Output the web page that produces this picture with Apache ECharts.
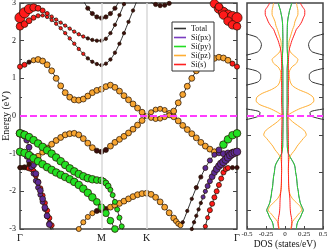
<!DOCTYPE html>
<html><head><meta charset="utf-8">
<script src="https://cdn.jsdelivr.net/npm/echarts@6/dist/echarts.min.js"></script>
<style>html,body{margin:0;padding:0;background:#fff}#c{width:327px;height:250px}</style>
</head><body><div id="c"></div>
<script>
// ---------- axis ticks ----------
const kTicks = [0, 18, 28, 48];
const kLabels = ['Γ', 'M', 'K', 'Γ'];
const fermiE = 0;
const dosTicks = [-0.5, -0.25, 0, 0.25, 0.5];

// ---------- band structure (k index, energy eV) ----------
const kFull = [0,1,2,3,4,5,6,7,8,9,10,11,12,13,14,15,16,17,18,19,20,21,22,23,24,25,26,27,28,29,30,31,32,33,34,35,36,37,38,39,40,41,42,43,44,45,46,47,48];

const eB1 = [2.61,2.74,2.84,2.88,2.86,2.8,2.72,2.64,2.56,2.48,
  2.4,2.32,2.24,2.17,2.11,2.06,2.02,2.0,2.0,2.05,
  2.2,2.42,2.68,2.97,3.28,null,null,null,null,null,
  null,null,null,null,null,null,null,null,null,null,
  null,3.35,3.15,2.98,2.85,2.75,2.68,2.64,2.61];
const oB1 = 'ssssssssss sssssttttt ttttt..... .......... .ssssssss';
const wB1 = '9986432111 1111111111 1111100000 0000000000 046789999';

const eB2 = [2.38,2.44,2.53,2.61,2.66,2.67,2.63,2.55,2.45,2.33,
  2.2,2.06,1.92,1.78,1.65,1.53,1.44,1.38,1.35,1.39,
  1.5,1.68,1.92,2.2,2.5,2.8,3.1,3.4,null,null,
  null,null,null,null,null,null,null,null,null,null,
  null,null,null,3.2,2.9,2.68,2.52,2.42,2.38];
const oB2 = 'ssssssssss sssssttttt tttttttt.. .......... ...ssssss';
const wB2 = '6543211111 1111111111 1111111100 0000000000 000567776';

const kB3 = [13,14,15,16,17,18,19,20,21,22,23];
const eB3 = [3.35,3.07,2.86,2.72,2.63,2.6,2.63,2.72,2.86,3.07,3.35];
const oB3 = 'ttttttttttt';
const wB3 = '22222222222';

const kB4 = [27,28,29,30,31,32,33,34,35];
const eB4 = [3.3,3.12,3.02,2.96,2.93,2.94,2.99,3.08,3.25];
const oB4 = 'ttttttttt';
const wB4 = '222222222';

const eB5 = [1.31,1.36,1.43,1.48,1.5,1.46,1.36,1.2,1.0,0.8,
  0.62,0.5,0.43,0.42,0.45,0.53,0.62,0.68,0.71,0.78,
  0.82,0.76,0.66,0.54,0.43,0.32,0.21,0.1,0.0,-0.05,
  -0.08,-0.07,-0.03,0.02,0.13,0.35,0.57,0.79,1.0,1.2,
  1.33,1.42,1.48,1.53,1.56,1.54,1.48,1.39,1.31];
const oB5 = 'sstzzzzzzz zzzzzzzzzz zzzzzzzzzz zzzzzzzzzz zzzzzzzss';
const wB5 = '3323444444 4444444444 4444444433 3333444444 444444433';

const eB6 = [-1.37,-1.35,-1.28,-1.18,-1.07,-0.96,-0.85,-0.75,-0.65,-0.57,
  -0.5,-0.47,-0.46,-0.5,-0.6,-0.72,-0.84,-0.92,-0.95,-0.9,
  -0.8,-0.7,-0.62,-0.54,-0.45,-0.35,-0.24,-0.12,0.0,0.1,
  0.17,0.19,0.16,0.08,-0.02,-0.13,-0.25,-0.36,-0.47,-0.58,
  -0.7,-0.8,-0.88,-0.95,-0.99,-1.0,-0.98,-0.96,-0.95];
const oB6 = 'tttzzzzzzz zzzzzzzttt zzzzzzzzzz zzzzzzzzzz zzzzxxxxx';
const wB6 = '2223444444 4444444333 4444444433 3333444444 444434444';

const kG1 = [0,1,2,3,4,5,6,7,8,9,10,11,12,13,14,15,16,17,18,18.5,19,19.5,20,20.5,21,21.5,22,22.5,23,23.5];
const eG1 = [-0.46,-0.5,-0.56,-0.64,-0.73,-0.82,-0.91,-1.0,-1.1,-1.2,
  -1.3,-1.39,-1.47,-1.54,-1.6,-1.65,-1.68,-1.7,-1.71,
  -1.73,-1.78,-1.86,-1.96,-2.1,-2.28,-2.48,-2.7,-2.93,-3.16,-3.4];
const oG1 = 'yyyyyyyyyy yyyyyyyyyy yyyyyyyyyy';
const wG1 = '6666666666 6666666554 4433333333';

const kG2 = [0,1,2,3,4,5,6,7,8,9,10,11,12,13,14,15,16,17,18,19,20,21,22];
const eG2 = [-0.95,-0.98,-1.04,-1.12,-1.2,-1.28,-1.36,-1.43,-1.5,-1.56,
  -1.62,-1.68,-1.75,-1.83,-1.93,-2.04,-2.16,-2.28,-2.42,-2.58,-2.78,-3.0,-3.25];
const oG2 = 'yyyyyyyyyy yyyyyyyyyy yyy';
const wG2 = '6666666666 6666666555 555';

const kB9 = [12,13,14,15,16,17,18,19,20,21,22,23,24,25,26,27,28,29,30,31,32,33,34,34.5,35,35.5,36,37,38,39,40,41,42,43,44,45,46,47,48];
const eB9 = [-3.3,-3.0,-2.82,-2.68,-2.58,-2.52,-2.5,-2.47,-2.42,-2.37,
  -2.32,-2.26,-2.2,-2.14,-2.09,-2.06,-2.05,-2.08,-2.16,-2.28,
  -2.42,-2.57,-2.71,-2.79,-2.86,-2.9,-2.82,-2.52,-2.2,-1.9,
  -1.62,-1.38,-1.18,-1.03,-0.9,-0.76,-0.62,-0.51,-0.46];
const oB9 = 'zzzzztttzz zzzzzzzzzz zzzzzztttt txxxxyyyy';
const wB9 = '3333333344 4444444444 4443331112 2333 46666';

const kB10 = [37.5,38,38.5,39,39.5,40,40.5,41,41.5,42,42.5,43,43.5,44,44.5,45,45.5,46,46.5,47,47.5,48];
const eB10 = [-3.2,-3.0,-2.82,-2.65,-2.48,-2.31,-2.15,-2.0,-1.86,-1.73,
  -1.61,-1.5,-1.41,-1.33,-1.27,-1.22,-1.16,-1.1,-1.04,-1.0,-0.97,-0.95];
const oB10 = 'ttttttxxxx xxxxxxxxxx xx';
const wB10 = '1111112233 4455666666 66';

const kB11 = [40.5,41,41.5,42,42.5,43,43.5,44,44.5,45,45.5,46,47,48];
const eB11 = [-3.2,-2.93,-2.7,-2.5,-2.33,-2.16,-2.0,-1.83,-1.66,-1.5,-1.41,-1.38,-1.37,-1.37];
const oB11 = 'ssssssssssss tt';
const wB11 = '222333333333 22';

const kHalf = [0,0.5,1,1.5,2,2.5,3,3.5,4,4.5,5,5.5,6,6.5,7,7.5];
const eP1 = [-0.46,-0.47,-0.52,-0.64,-0.83,-1.06,-1.3,-1.53,-1.76,-1.98,-2.2,-2.43,-2.65,-2.88,-3.1,-3.33];
const oP1 = 'xxxxxxxxxxxxxxxx';
const wP1 = '6554444444444444';
const eP2 = [-0.95,-0.96,-1.0,-1.08,-1.2,-1.36,-1.53,-1.72,-1.9,-2.09,-2.28,-2.47,-2.66,-2.85,-3.04,-3.23];
const oP2 = 'xxxxxxxxxxxxxxxx';
const wP2 = '3333333333333333';
const kS1 = [0,0.5,1,1.5,2,2.5,3,3.5,4,4.5,5,5.5,6,6.5,7,7.5,8];
const eS1 = [-1.37,-1.37,-1.37,-1.38,-1.39,-1.41,-1.46,-1.58,-1.74,-1.92,-2.11,-2.31,-2.51,-2.71,-2.9,-3.08,-3.27];
const oS1 = 'ttttsssssssssssss';
const wS1 = '22223333333333333';

// ---------- DOS (energy grid, states/eV) ----------
const dosE = [-3.0,-2.9,-2.8,-2.7,-2.6,-2.5,-2.4,-2.3,-2.2,-2.1,
  -2.0,-1.9,-1.8,-1.7,-1.6,-1.5,-1.4,-1.3,-1.2,-1.1,
  -1.0,-0.9,-0.8,-0.7,-0.6,-0.5,-0.4,-0.3,-0.2,-0.1,
  0.0,0.1,0.2,0.3,0.4,0.5,0.6,0.7,0.8,0.9,
  1.0,1.1,1.2,1.3,1.4,1.5,1.6,1.7,1.8,1.9,
  2.0,2.1,2.2,2.3,2.4,2.5,2.6,2.7,2.8,2.9,3.0];
const dosTotal = [0.9,0.9,0.9,0.9,0.9,0.9,0.9,0.9,0.9,0.9,
  0.9,0.9,0.9,0.9,0.9,0.9,0.9,0.9,0.9,0.9,
  0.9,0.9,0.9,0.9,0.9,0.9,0.9,0.9,0.8,0.52,
  0.34,0.33,0.55,0.85,0.9,0.9,0.9,0.9,0.56,0.36,
  0.32,0.32,0.38,0.6,0.9,0.9,0.55,0.36,0.32,0.31,
  0.33,0.38,0.56,0.9,0.9,0.9,0.9,0.9,0.9,0.9,0.9];
const dosPy = [0.15,0.155,0.17,0.2,0.22,0.24,0.22,0.2,0.19,0.18,
  0.175,0.165,0.16,0.155,0.15,0.14,0.135,0.125,0.1,0.07,
  0.045,0.035,0.03,0.03,0.028,0.028,0.027,0.027,0.026,0.026,
  0.025,0.026,0.027,0.028,0.028,0.028,0.028,0.028,0.028,0.028,
  0.028,0.028,0.028,0.03,0.033,0.036,0.034,0.031,0.029,0.028,
  0.028,0.028,0.029,0.03,0.031,0.034,0.04,0.05,0.06,0.075,0.09];
const dosPx = dosPy;
const dosPz = [0.075,0.085,0.1,0.14,0.18,0.22,0.2,0.15,0.1,0.07,
  0.055,0.05,0.047,0.046,0.047,0.045,0.044,0.045,0.05,0.06,
  0.09,0.13,0.16,0.2,0.24,0.28,0.26,0.2,0.13,0.07,
  0.03,0.1,0.2,0.33,0.38,0.37,0.3,0.18,0.1,0.07,
  0.06,0.055,0.06,0.09,0.15,0.17,0.12,0.07,0.055,0.05,
  0.055,0.07,0.085,0.1,0.12,0.13,0.15,0.17,0.17,0.16,0.15];
const dosS = [0.08,0.09,0.09,0.085,0.075,0.07,0.067,0.066,0.064,0.06,
  0.055,0.05,0.048,0.047,0.046,0.045,0.045,0.046,0.045,0.044,
  0.044,0.045,0.046,0.045,0.044,0.044,0.043,0.042,0.041,0.04,
  0.038,0.04,0.042,0.044,0.045,0.045,0.044,0.044,0.045,0.045,
  0.045,0.045,0.045,0.044,0.045,0.046,0.048,0.052,0.06,0.075,
  0.09,0.11,0.13,0.15,0.19,0.22,0.24,0.26,0.26,0.23,0.2];

// ---------- styling ----------
const FONT = "'Liberation Serif','DejaVu Serif',serif";
const ORB_COLOR = {s:'#ff1a1a', x:'#5d2b96', y:'#22e022', z:'#f7a531', t:'#3b0e0e'};
const AX = '#444';
function symSize(w){ return w === 0 ? 2.4 : 2.5 + 0.85 * w; }
function clean(s){ return s.replace(/\s/g, ''); }
function bandData(k, e, orb, w){
  orb = clean(orb); w = clean(w);
  if (k.length !== e.length || orb.length !== e.length || w.length !== e.length)
    console.error('length mismatch', k.length, e.length, orb.length, w.length);
  return e.map((v, i) => v == null ? {value: [k[i], '-']} :
    {value: [k[i], v], symbolSize: symSize(+w[i]), itemStyle: {color: ORB_COLOR[orb[i]] || '#000'}});
}
function bandSeries(data, extra){
  return Object.assign({type:'line', xAxisIndex:0, yAxisIndex:0, data, symbol:'circle',
    showSymbol:true, showAllSymbol:true, smooth:0.3, connectNulls:false, clip:true,
    lineStyle:{color:'#1b1b1b', width:0.9},
    itemStyle:{borderColor:'#2a1505', borderWidth:0.75},
    emphasis:{disabled:true}, silent:true, animation:false, z:3}, extra || {});
}
function dosSeries(name, vals, color, sign, extra){
  return Object.assign({name, type:'line', xAxisIndex:1, yAxisIndex:2, color,
    data: dosE.map((e, j) => [sign * vals[j], e]), symbol:'none', showSymbol:false,
    smooth:0.25, clip:true, lineStyle:{color, width:1.0}, emphasis:{disabled:true},
    silent:true, animation:false, z:3}, extra || {});
}
const fermiLine = {silent:true, symbol:['none','none'], animation:false, label:{show:false},
  lineStyle:{color:'#ff3cff', width:1.8, type:[7,3]}, data:[{yAxis: fermiE}]};

const series = [
  bandSeries(bandData(kB3, eB3, oB3, wB3), {markLine:{silent:true, symbol:['none','none'], animation:false,
    label:{show:false}, lineStyle:{color:'#d8d8d8', width:1.5, type:'solid'},
    data:[{xAxis: kTicks[1]}, {xAxis: kTicks[2]}]}}),
  bandSeries(bandData(kB4, eB4, oB4, wB4)),
  bandSeries(bandData(kFull, eB1, oB1, wB1)),
  bandSeries(bandData(kFull, eB2, oB2, wB2)),
  bandSeries(bandData(kS1, eS1, oS1, wS1)),
  bandSeries(bandData(kHalf, eP2, oP2, wP2)),
  bandSeries(bandData(kHalf, eP1, oP1, wP1)),
  bandSeries(bandData(kFull, eB6, oB6, wB6)),
  bandSeries(bandData(kFull, eB5, oB5, wB5)),
  bandSeries(bandData(kB9, eB9, oB9, wB9)),
  bandSeries(bandData(kB10, eB10, oB10, wB10)),
  bandSeries(bandData(kB11, eB11, oB11, wB11)),
  bandSeries(bandData(kG1, eG1, oG1, wG1)),
  bandSeries(bandData(kG2, eG2, oG2, wG2), {markLine: fermiLine}),
  dosSeries('Total', dosTotal, '#333333', 1), dosSeries('Total', dosTotal, '#333333', -1),
  dosSeries('Si(px)', dosPx, '#7a3cc0', 1), dosSeries('Si(px)', dosPx, '#7a3cc0', -1),
  dosSeries('Si(py)', dosPy, '#22dd22', 1), dosSeries('Si(py)', dosPy, '#22dd22', -1),
  dosSeries('Si(pz)', dosPz, '#ffae33', 1), dosSeries('Si(pz)', dosPz, '#ffae33', -1),
  dosSeries('Si(s)', dosS, '#ff2020', 1), dosSeries('Si(s)', dosS, '#ff2020', -1, {markLine: fermiLine})
];

const yBase = {type:'value', min:-3, max:3, interval:1, splitLine:{show:false},
  axisLine:{show:false, onZero:false}, nameMoveOverlap:false};
const option = {
  animation:false,
  backgroundColor:'#fff',
  grid:[
    {left:20, top:3, width:217, height:226, show:true, borderColor:AX, borderWidth:1.5, backgroundColor:'transparent', outerBoundsMode:'none', containLabel:false},
    {left:247, top:3, width:76, height:226, show:true, borderColor:AX, borderWidth:1.5, backgroundColor:'transparent', outerBoundsMode:'none', containLabel:false}
  ],
  xAxis:[
    {type:'value', gridIndex:0, min:kTicks[0], max:kTicks[3], interval:2,
      axisLine:{show:false, onZero:false}, axisTick:{show:false}, splitLine:{show:false},
      axisLabel:{margin:4, fontFamily:FONT, fontSize:10, color:'#111',
        formatter: v => { const i = kTicks.indexOf(v); return i >= 0 ? kLabels[i] : ''; }}},
    {type:'value', gridIndex:1, min:dosTicks[0], max:dosTicks[4], interval:0.25,
      axisLine:{show:false, onZero:false}, splitLine:{show:false},
      axisTick:{show:true, inside:true, length:3, lineStyle:{color:AX}},
      axisLabel:{margin:2, fontFamily:FONT, fontSize:7, color:'#111'},
      name:'DOS (states/eV)', nameLocation:'middle', nameGap:10, nameMoveOverlap:false,
      nameTextStyle:{fontFamily:FONT, fontSize:9.5, color:'#111'}}
  ],
  yAxis:[
    Object.assign({}, yBase, {gridIndex:0, position:'left',
      axisTick:{show:true, inside:true, length:4, lineStyle:{color:AX}},
      minorTick:{show:true, splitNumber:2, length:2, lineStyle:{color:AX}},
      axisLabel:{margin:4, fontFamily:FONT, fontSize:8, color:'#111'},
      name:'Energy (eV)', nameLocation:'middle', nameGap:9,
      nameTextStyle:{fontFamily:FONT, fontSize:10, color:'#111'}}),
    Object.assign({}, yBase, {gridIndex:0, position:'right',
      axisTick:{show:true, inside:true, length:4, lineStyle:{color:AX}},
      minorTick:{show:true, splitNumber:2, length:2, lineStyle:{color:AX}},
      axisLabel:{show:false}}),
    Object.assign({}, yBase, {gridIndex:1, position:'left',
      axisTick:{show:false, inside:true},
      minorTick:{show:true, splitNumber:2, length:4, lineStyle:{color:AX}},
      axisLabel:{show:false}}),
    Object.assign({}, yBase, {gridIndex:1, position:'right',
      axisTick:{show:false, inside:true},
      minorTick:{show:true, splitNumber:2, length:4, lineStyle:{color:AX}},
      axisLabel:{show:false}})
  ],
  legend:{data:['Total','Si(px)','Si(py)','Si(pz)','Si(s)'], orient:'vertical', left:172, top:22,
    itemWidth:12, itemHeight:1.6, itemGap:0, icon:'rect', padding:[2,3,2,2],
    borderColor:'#333', borderWidth:1, backgroundColor:'#fff', borderRadius:0, selectedMode:false,
    textStyle:{fontFamily:FONT, fontSize:8, color:'#111', lineHeight:9}, z:10},
  series
};
const chart = echarts.init(document.getElementById('c'), null, {renderer:'canvas'});
chart.setOption(option);
</script></body></html>
